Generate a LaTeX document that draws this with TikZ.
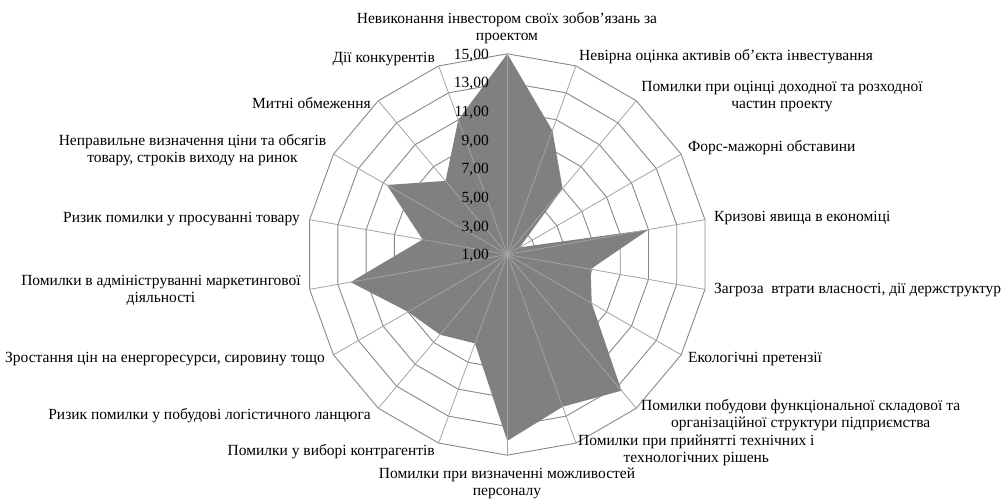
\documentclass[tikz,border=0pt]{standalone}
\usepackage{fontspec}
\setmainfont{Liberation Serif}
\usetikzlibrary{calc}
\definecolor{ringc}{HTML}{888888}
\definecolor{spokec}{HTML}{A3A3A3}
\definecolor{fillc}{HTML}{808080}
\begin{document}
\begin{tikzpicture}[x=1pt,y=1pt,
  lab/.style={font=\rmfamily\fontsize{15.5}{17}\selectfont, inner sep=0pt, align=center},
  vlab/.style={font=\rmfamily\fontsize{15.5}{17}\selectfont, inner sep=0pt, anchor=east},
  ring/.style={draw=ringc, line width=0.9pt},
  spoke/.style={draw=spokec, line width=0.8pt}]
\useasboundingbox (0,0) rectangle (1001,498);
\coordinate (c) at (507.3,243.5);
\def\st{28.67}
% rings
\foreach \r in {1,...,7} {
  \draw[ring, shift={(c)}] (90:\r*\st) \foreach \k in {1,...,17} { -- (90-20*\k:\r*\st) } -- cycle;
}
% outer axis ends
\foreach \k in {0,...,17} { \coordinate (a\k) at ($(c)+(90-20*\k:7*\st)$); }
% data (values on the 1..15 scale)
\foreach \v [count=\i from 0] in {15,10.2,7,2,11,6.9,7.8,13.4,12.3,14,7.6,8.3,9,12.1,7,10.7,7.7,11} {
  \coordinate (p\i) at ($(c)+(90-20*\i:{(\v-1)/2*\st})$);
}
\fill[fillc] (p0) -- (p1) -- (p2) -- (p3) -- (p4) -- (p5) -- (p6) -- (p7) -- (p8) -- (p9)
  -- (p10) -- (p11) -- (p12) -- (p13) -- (p14) -- (p15) -- (p16) -- (p17) -- cycle;
% spokes
\foreach \k in {0,...,17} { \draw[spoke] (c) -- (a\k); }
% value labels
\foreach \v [count=\j from 0] in {1,3,5,7,9,11,13,15} {
  \node[vlab] (vl\j) at (489,{242+\j*\st}) {\v,00};
}
% category labels
\node[lab] (l0) at (507,470) {Невиконання інвестором своїх зобов’язань за\\проектом};
\node[lab, anchor=west] (l1) at (579,441) {Невірна оцінка активів об’єкта інвестування};
\node[lab] (l2) at (782,401.3) {Помилки при оцінці доходної та розходної\\частин проекту};
\node[lab, anchor=west] (l3) at (688,350) {Форс-мажорні обставини};
\node[lab, anchor=west] (l4) at (714,280) {Кризові явища в економіці};
\node[lab, anchor=west] (l5) at (714,208) {Загроза\ \ втрати власності, дії держструктур};
\node[lab, anchor=west] (l6) at (688,139) {Екологічні претензії};
\node[lab, anchor=west] (l7) at (641,83) {Помилки побудови функціональної складової та\\організаційної структури підприємства};
\node[lab, anchor=west] (l8) at (578,47.5) {Помилки при прийнятті технічних і\\технологічних рішень};
\node[lab] (l9) at (507,14.7) {Помилки при визначенні можливостей\\персоналу};
\node[lab, anchor=east] (l10) at (435,46.3) {Помилки у виборі контрагентів};
\node[lab, anchor=east] (l11) at (371,82) {Ризик помилки у побудові логістичного ланцюга};
\node[lab, anchor=east] (l12) at (325,138.7) {Зростання цін на енергоресурси, сировину тощо};
\node[lab] (l13) at (161,207.2) {Помилки в адмініструванні маркетингової\\діяльності};
\node[lab, anchor=east] (l14) at (300,278.7) {Ризик помилки у просуванні товару};
\node[lab] (l15) at (192.5,347.5) {Неправильне визначення ціни та обсягів\\товару, строків виходу на ринок};
\node[lab, anchor=east] (l16) at (371,394.7) {Митні обмеження};
\node[lab, anchor=east] (l17) at (435,439) {Дії конкурентів};
\end{tikzpicture}
\end{document}
